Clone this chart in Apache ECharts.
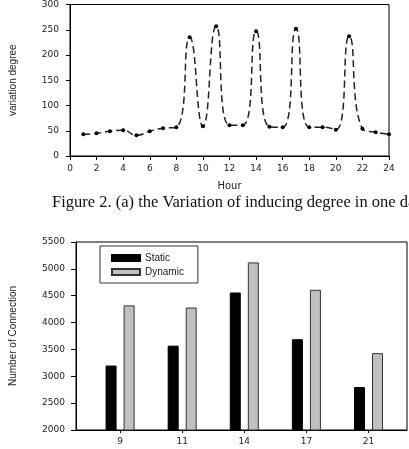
<!DOCTYPE html>
<html>
<head>
<meta charset="utf-8">
<script src="https://cdn.jsdelivr.net/npm/echarts@6/dist/echarts.min.js"></script>
<style>
  html, body { margin: 0; padding: 0; background: #fff; }
  #chart { width: 409px; height: 449px; }
</style>
</head>
<body>
<div id="chart"></div>
<script>
// top panel: variation degree per hour
const hours = [1, 2, 3, 4, 5, 6, 7, 8, 9, 10, 11, 12, 13, 14, 15, 16, 17, 18, 19, 20, 21, 22, 23, 24];
const variation = [43, 45, 49, 51, 41, 49, 55, 57, 235, 59, 257, 61, 61, 247, 58, 57, 252, 57, 57, 52, 237, 54, 47, 43];

// bottom panel: number of connection
const barHours = ["9", "11", "14", "17", "21"];
const staticVals = [3200, 3570, 4560, 3690, 2800];
const dynamicVals = [4320, 4280, 5120, 4610, 3430];

const tickFont = { fontFamily: "DejaVu Sans", fontSize: 9, color: "#222" };
const blackLine = { onZero: false, lineStyle: { color: "#000", width: 1 } };

const myChart = echarts.init(document.getElementById("chart"));

const option = {
  animation: false,
  title: {
    text: "Figure 2. (a) the Variation of inducing degree in one day",
    left: 52,
    top: 194,
    padding: 0,
    textStyle: {
      fontFamily: "Liberation Serif",
      fontSize: 16.5,
      fontWeight: "normal",
      color: "#111",
    },
  },
  legend: {
    data: ["Static", "Dynamic"],
    orient: "vertical",
    left: 100,
    top: 246,
    padding: [7, 14, 6, 11],
    icon: "rect",
    itemWidth: 28,
    itemHeight: 6,
    itemGap: 4,
    borderColor: "#333",
    borderWidth: 1,
    textStyle: { fontFamily: "Liberation Sans", fontSize: 10, color: "#222" },
  },
  grid: [
    {
      left: 63, top: 4, width: 326, height: 152,
      show: true, borderColor: "#000", borderWidth: 1,
    },
    {
      left: 70, top: 242, width: 337, height: 188,
      show: true, borderColor: "#000", borderWidth: 1,
    },
  ],
  xAxis: [
    {
      gridIndex: 0,
      type: "value",
      min: 0,
      max: 24,
      interval: 2,
      name: "Hour",
      nameLocation: "middle",
      nameGap: 25,
      nameTextStyle: { fontFamily: "DejaVu Sans", fontSize: 10, color: "#222" },
      axisLine: blackLine,
      axisTick: { length: 4, lineStyle: { color: "#000" } },
      axisLabel: Object.assign({ margin: 8 }, tickFont),
      splitLine: { show: false },
    },
    {
      gridIndex: 1,
      type: "value",
      min: -0.71,
      max: 4.62,
      axisLine: blackLine,
      axisTick: { length: 3, customValues: [0, 1, 2, 3, 4], lineStyle: { color: "#000" } },
      axisLabel: Object.assign({
        margin: 7,
        customValues: [0, 1, 2, 3, 4],
        formatter: (v) => barHours[Math.round(v)],
      }, tickFont),
      splitLine: { show: false },
    },
  ],
  yAxis: [
    {
      gridIndex: 0,
      type: "value",
      min: 0,
      max: 300,
      interval: 50,
      name: "variation degree",
      nameLocation: "middle",
      nameRotate: 90,
      nameGap: 52,
      nameTextStyle: { fontFamily: "Liberation Sans", fontSize: 10, color: "#222" },
      axisLine: Object.assign({ show: true }, blackLine),
      axisTick: { show: true, length: 4, lineStyle: { color: "#000" } },
      axisLabel: Object.assign({ margin: 11, formatter: (v) => String(v) }, tickFont),
      splitLine: { show: false },
    },
    {
      gridIndex: 1,
      type: "value",
      min: 2000,
      max: 5500,
      interval: 500,
      name: "Number of Connection",
      nameLocation: "middle",
      nameRotate: 90,
      nameGap: 58,
      nameTextStyle: { fontFamily: "Liberation Sans", fontSize: 10, color: "#222" },
      axisLine: Object.assign({ show: true }, blackLine),
      axisTick: { show: true, length: 5, lineStyle: { color: "#000" } },
      axisLabel: Object.assign({ margin: 11, formatter: (v) => String(v) }, tickFont),
      splitLine: { show: false },
    },
  ],
  series: [
    {
      type: "line",
      xAxisIndex: 0,
      yAxisIndex: 0,
      data: hours.map((h, i) => [h, variation[i]]),
      smooth: 0.55,
      symbol: "circle",
      symbolSize: 4,
      itemStyle: { color: "#000" },
      lineStyle: { color: "#222", width: 1.5, type: [7, 4] },
    },
    {
      name: "Static",
      type: "bar",
      xAxisIndex: 1,
      yAxisIndex: 1,
      data: staticVals.map((v, i) => [i, v]),
      barWidth: 11,
      barGap: "64%",
      itemStyle: { color: "#000", borderColor: "#000", borderWidth: 1 },
    },
    {
      name: "Dynamic",
      type: "bar",
      xAxisIndex: 1,
      yAxisIndex: 1,
      data: dynamicVals.map((v, i) => [i, v]),
      barWidth: 11,
      barGap: "64%",
      itemStyle: { color: "#c0c0c0", borderColor: "#333", borderWidth: 1 },
    },
  ],
};

myChart.setOption(option);
</script>
</body>
</html>
